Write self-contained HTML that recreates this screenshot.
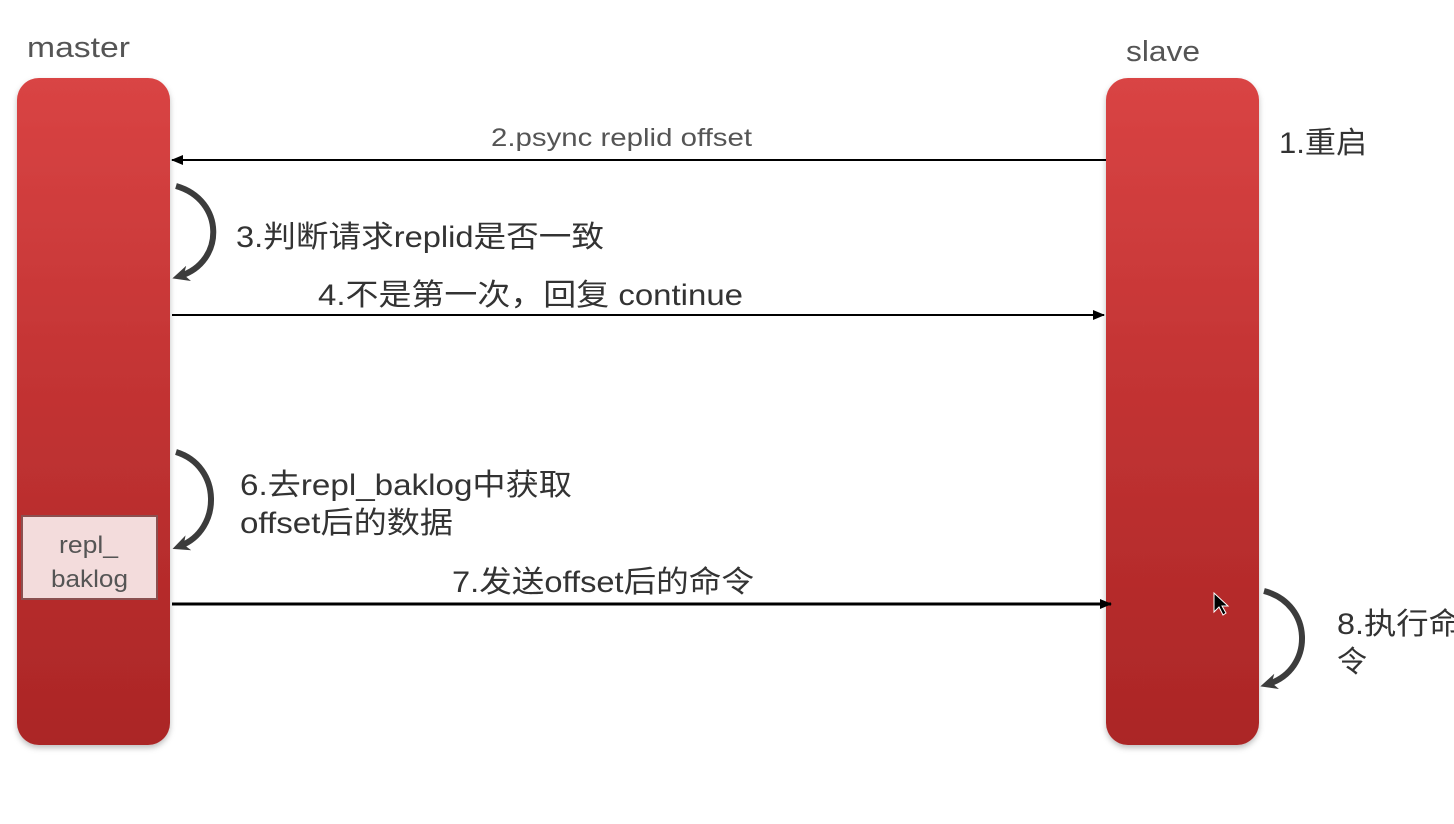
<!DOCTYPE html>
<html><head><meta charset="utf-8"><style>
html,body{margin:0;padding:0;background:#fff;}
svg{display:block;font-family:"Liberation Sans","Noto Sans CJK SC",sans-serif;}
</style></head><body>
<svg width="1454" height="824" viewBox="0 0 1454 824" xmlns="http://www.w3.org/2000/svg">
<defs>
<linearGradient id="g" x1="0" y1="0" x2="0" y2="1">
<stop offset="0" stop-color="#d94444"/>
<stop offset="0.5" stop-color="#c13232"/>
<stop offset="1" stop-color="#ab2626"/>
</linearGradient>
<filter id="sh" x="-20%" y="-5%" width="140%" height="110%"><feDropShadow dx="0" dy="3" stdDeviation="3" flood-color="#000" flood-opacity="0.25"/></filter>
<marker id="a" markerWidth="12" markerHeight="10" refX="11" refY="5" orient="auto" markerUnits="userSpaceOnUse"><path d="M0,0 L12,5 L0,10 Z" fill="#000"/></marker>
<marker id="c" markerWidth="18" markerHeight="18" refX="9" refY="9" orient="auto" markerUnits="userSpaceOnUse"><path d="M0,1 L17,9 L0,17 L5,9 Z" fill="#3c3c3c"/></marker>
</defs>
<text x="27" y="57" font-size="29" fill="#555" textLength="103" lengthAdjust="spacingAndGlyphs">master</text>
<text x="1126" y="61" font-size="29" fill="#555" textLength="74" lengthAdjust="spacingAndGlyphs">slave</text>
<rect x="17" y="78" width="153" height="667" rx="22" fill="url(#g)" filter="url(#sh)"/>
<rect x="1106" y="78" width="153" height="667" rx="22" fill="url(#g)" filter="url(#sh)"/>
<rect x="22" y="516" width="135" height="83" fill="#f3dcdc" stroke="#8a5050" stroke-width="2"/>
<text x="59" y="553" font-size="24" fill="#555" textLength="59" lengthAdjust="spacingAndGlyphs">repl_</text>
<text x="51" y="587" font-size="24" fill="#555" textLength="77" lengthAdjust="spacingAndGlyphs">baklog</text>
<line x1="1106" y1="160" x2="172" y2="160" stroke="#000" stroke-width="2" marker-end="url(#a)"/>
<text x="491" y="146" font-size="25" fill="#555" textLength="261" lengthAdjust="spacingAndGlyphs">2.psync replid offset</text>
<text x="1279" y="153" font-size="30" fill="#333" textLength="88" lengthAdjust="spacingAndGlyphs">1.重启</text>
<path d="M176,186 C225,200 225,262 180,276" fill="none" stroke="#3c3c3c" stroke-width="6" marker-end="url(#c)"/>
<text x="236" y="247" font-size="30" fill="#333" textLength="368" lengthAdjust="spacingAndGlyphs">3.判断请求replid是否一致</text>
<line x1="172" y1="315" x2="1104" y2="315" stroke="#000" stroke-width="2" marker-end="url(#a)"/>
<text x="318" y="305" font-size="30" fill="#333" textLength="425" lengthAdjust="spacingAndGlyphs">4.不是第一次，回复 continue</text>
<path d="M176,452 C222,466 222,530 180,546" fill="none" stroke="#3c3c3c" stroke-width="6" marker-end="url(#c)"/>
<text x="240" y="495" font-size="30" fill="#333" textLength="332" lengthAdjust="spacingAndGlyphs">6.去repl_baklog中获取</text>
<text x="240" y="533" font-size="30" fill="#333" textLength="213" lengthAdjust="spacingAndGlyphs">offset后的数据</text>
<line x1="172" y1="604" x2="1111" y2="604" stroke="#000" stroke-width="3" marker-end="url(#a)"/>
<text x="452" y="592" font-size="30" fill="#333" textLength="302" lengthAdjust="spacingAndGlyphs">7.发送offset后的命令</text>
<path d="M1264,591 C1314,604 1314,670 1268,684" fill="none" stroke="#3c3c3c" stroke-width="6" marker-end="url(#c)"/>
<text x="1337" y="634" font-size="30" fill="#333" textLength="124" lengthAdjust="spacingAndGlyphs">8.执行命</text>
<text x="1337" y="672" font-size="30" fill="#333">令</text>
<path d="M1214,593 L1214,612 L1219,607 L1223,615 L1226,613 L1222,606 L1228,606 Z" fill="#000" stroke="#fff" stroke-width="1"/>
</svg>
</body></html>
